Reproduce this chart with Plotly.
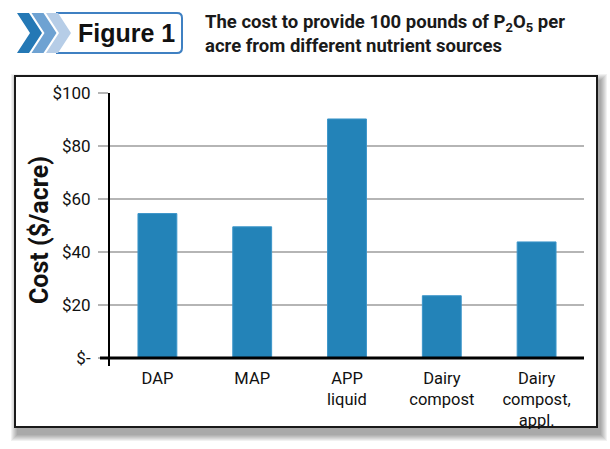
import plotly.graph_objects as go

# ---- data ----
categories = ["DAP", "MAP", "APP<br>liquid", "Dairy<br>compost", "Dairy<br>compost,<br>appl."]
costs = [54.5, 49.5, 90.2, 23.5, 43.8]
tick_vals = [0, 20, 40, 60, 80, 100]
tick_text = ["$-", "$20", "$40", "$60", "$80", "$100"]
header_label = "Figure 1"
title_text = "The cost to provide 100 pounds of P<sub>2</sub>O<sub>5</sub> per<br>acre from different nutrient sources"
y_title = "Cost ($/acre)"

W, H = 610, 449
L, R, T, B = 110, 584, 93, 366
NARROW = "Roboto, Liberation Sans, sans-serif"
BAR = "#2383b8"


def px(x):
    return (x - L) / (R - L)


def py(y):
    return (B - y) / (B - T)


def path(pts, close=True):
    s = "M " + " L ".join(f"{px(x):.5f},{py(y):.5f}" for x, y in pts)
    return s + (" Z" if close else "")


fig = go.Figure()
fig.add_trace(go.Bar(
    x=categories, y=costs, width=0.41,
    marker=dict(color=BAR, line=dict(color="#3b95c9", width=1)),
    hoverinfo="skip",
))

shapes = []
# shadow of the frame
fx0, fy0, fx1, fy1 = 15, 76, 597, 427
for k in range(7):
    shapes.append(dict(type="rect", xref="paper", yref="paper", layer="below",
                       x0=px(fx0 + 2 - k), x1=px(fx1 + 4 + k),
                       y0=py(fy0 + 4 - k), y1=py(fy1 + 8 + k),
                       fillcolor="rgba(0,0,0,0.055)", line=dict(width=0)))
# frame
shapes.append(dict(type="rect", xref="paper", yref="paper", layer="below",
                   x0=px(fx0), x1=px(fx1), y0=py(fy0), y1=py(fy1),
                   fillcolor="white", line=dict(color="#1a1a1a", width=2)))
# zero line (thick, extending over the tick)
shapes.append(dict(type="line", xref="paper", yref="y",
                   x0=px(100), x1=px(584), y0=0, y1=0,
                   line=dict(color="black", width=3)))

# header box (rounded, open on the left behind chevrons)
bx0, bx1, by0, by1, r = 56, 182, 13, 53, 5
box = (f"M {px(bx0):.5f},{py(by0):.5f} L {px(bx1 - r):.5f},{py(by0):.5f} "
       f"Q {px(bx1):.5f},{py(by0):.5f} {px(bx1):.5f},{py(by0 + r):.5f} "
       f"L {px(bx1):.5f},{py(by1 - r):.5f} "
       f"Q {px(bx1):.5f},{py(by1):.5f} {px(bx1 - r):.5f},{py(by1):.5f} "
       f"L {px(bx0):.5f},{py(by1):.5f}")
shapes.append(dict(type="path", xref="paper", yref="paper", path=box,
                   line=dict(color="#3f80c2", width=2)))

# chevrons
chev_cols = ["#2478b5", "#6ea2d2", "#b6cde7"]
for i, c in enumerate(chev_cols[::-1]):
    j = 2 - i
    x = 17 + j * 14.5
    t = 12
    d = 13
    pts = [(x, 13), (x + t, 13), (x + t + d, 33), (x + t, 53), (x, 53), (x + d, 33)]
    shapes.append(dict(type="path", xref="paper", yref="paper", path=path(pts),
                       fillcolor=c, line=dict(width=0)))

annotations = [
    dict(text=f"<b>{header_label}</b>", xref="paper", yref="paper",
         x=px(126), y=py(33), xanchor="center", yanchor="middle", showarrow=False,
         font=dict(family="Liberation Sans, Arial, sans-serif", size=25, color="#111")),
    dict(text=f"<b>{title_text}</b>", xref="paper", yref="paper",
         x=px(203), y=py(9), xanchor="left", yanchor="top", align="left", showarrow=False,
         font=dict(family=NARROW, size=18.5, color="#1a1a1a")),
    dict(text=f"<b>{y_title}</b>", xref="paper", yref="paper", textangle=-90,
         x=px(39), y=py(230), xanchor="center", yanchor="middle", showarrow=False,
         font=dict(family=NARROW, size=25, color="#111")),
]

fig.update_layout(
    width=W, height=H, autosize=False,
    margin=dict(l=L, r=W - R, t=T, b=H - B, pad=0),
    paper_bgcolor="white", plot_bgcolor="rgba(0,0,0,0)",
    showlegend=False, bargap=0.59,
    shapes=shapes, annotations=annotations,
    xaxis=dict(type="category", range=[-0.5, 4.5], showgrid=False, showline=False,
               ticks="", zeroline=False, fixedrange=True,
               tickfont=dict(family=NARROW, size=16.5, color="#111")),
    yaxis=dict(range=[-3.02, 100], tickvals=tick_vals, ticktext=tick_text,
               showgrid=True, gridcolor="#b5b5b5", gridwidth=2,
               ticks="outside", ticklen=10, tickwidth=2, tickcolor="#b5b5b5",
               ticklabelstandoff=4,
               showline=True, linecolor="black", linewidth=2, zeroline=False,
               fixedrange=True,
               tickfont=dict(family=NARROW, size=17, color="#111")),
)

fig.write_html("out.html")
